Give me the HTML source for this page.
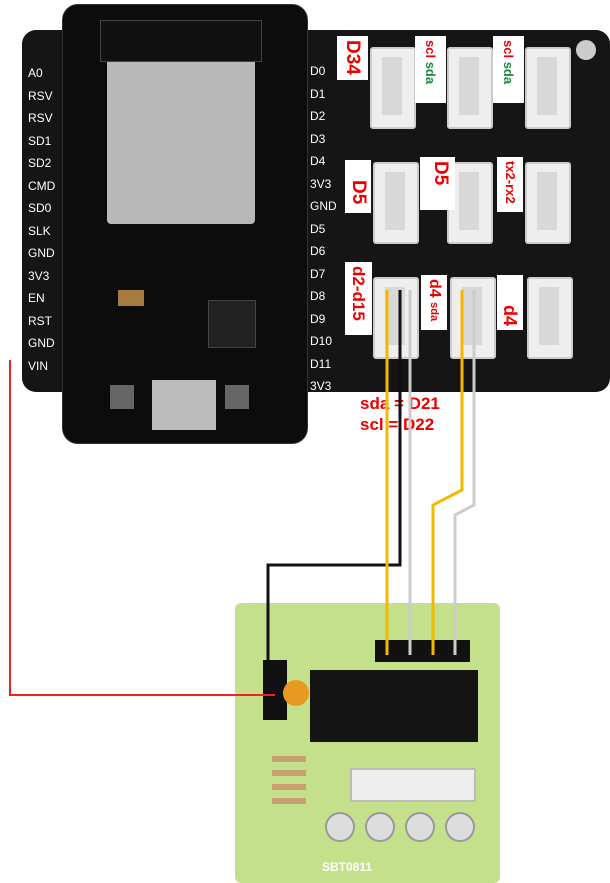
<!DOCTYPE html>
<html><head><style>
body{margin:0;width:610px;height:883px;background:#fff;position:relative;overflow:hidden;font-family:"Liberation Sans",sans-serif}
.a{position:absolute}
.conn{position:absolute;width:42px;height:78px;background:#eee;border:2px solid #ccc;border-radius:3px}
.conn:after{content:"";position:absolute;left:10px;top:8px;width:20px;height:58px;background:#d8d8d8}
.lbl{position:absolute;color:#e00;font-weight:bold;background:#fff;writing-mode:vertical-rl;box-sizing:border-box;padding-top:4px;text-align:left}
.wt{position:absolute;color:#fff;font-size:12px}
</style></head><body>
<div class="a" style="left:22px;top:30px;width:588px;height:362px;background:#151515;border-radius:14px"></div>
<div class="a" style="left:62px;top:4px;width:244px;height:438px;background:#0c0c0c;border-radius:16px;border:1px solid #333"></div>
<div class="a" style="left:107px;top:56px;width:148px;height:168px;background:#b8b8b8;border-radius:4px"></div>
<div class="a" style="left:100px;top:20px;width:160px;height:40px;background:#111;border:1px solid #444"></div>
<div class="a" style="left:152px;top:380px;width:64px;height:50px;background:#bbb"></div>
<div class="a" style="left:110px;top:385px;width:24px;height:24px;background:#666"></div>
<div class="a" style="left:225px;top:385px;width:24px;height:24px;background:#666"></div>
<div class="a" style="left:208px;top:300px;width:46px;height:46px;background:#222;border:1px solid #444"></div>
<div class="a" style="left:118px;top:290px;width:26px;height:16px;background:#a67c3c"></div>
<div class="wt" style="left:28px;top:62px;line-height:22.5px">A0<br>RSV<br>RSV<br>SD1<br>SD2<br>CMD<br>SD0<br>SLK<br>GND<br>3V3<br>EN<br>RST<br>GND<br>VIN</div>
<div class="wt" style="left:310px;top:60px;line-height:22.5px">D0<br>D1<br>D2<br>D3<br>D4<br>3V3<br>GND<br>D5<br>D6<br>D7<br>D8<br>D9<br>D10<br>D11<br>3V3</div>
<div class="a" style="left:576px;top:40px;width:20px;height:20px;border-radius:50%;background:#ccc"></div>
<div class="conn" style="left:370px;top:47px"></div>
<div class="conn" style="left:447px;top:47px"></div>
<div class="conn" style="left:525px;top:47px"></div>
<div class="conn" style="left:373px;top:162px"></div>
<div class="conn" style="left:447px;top:162px"></div>
<div class="conn" style="left:525px;top:162px"></div>
<div class="conn" style="left:373px;top:277px"></div>
<div class="conn" style="left:450px;top:277px"></div>
<div class="conn" style="left:527px;top:277px"></div>
<div class="lbl" style="left:337px;top:36px;width:31px;height:44px;font-size:19px;line-height:31px">D34</div>
<div class="lbl" style="left:415px;top:36px;width:31px;height:67px;font-size:13px;line-height:31px">scl&nbsp;<span style="color:#1a8a3a">sda</span></div>
<div class="lbl" style="left:493px;top:36px;width:31px;height:67px;font-size:13px;line-height:31px">scl&nbsp;<span style="color:#1a8a3a">sda</span></div>
<div class="lbl" style="left:345px;top:160px;width:26px;height:53px;font-size:19px;line-height:26px;padding-top:20px">D5</div>
<div class="lbl" style="left:420px;top:157px;width:35px;height:53px;font-size:19px;line-height:30px">D5</div>
<div class="lbl" style="left:497px;top:157px;width:26px;height:55px;font-size:13px;line-height:26px">tx2-rx2</div>
<div class="lbl" style="left:345px;top:262px;width:27px;height:73px;font-size:17px;line-height:27px">d2-d15</div>
<div class="lbl" style="left:421px;top:275px;width:26px;height:55px;font-size:16px;line-height:26px">d4&nbsp;<span style="font-size:11px">sda</span></div>
<div class="lbl" style="left:497px;top:275px;width:26px;height:55px;font-size:18px;line-height:26px;padding-top:30px">d4</div>
<div class="a" style="left:360px;top:393px;color:#e00;font-weight:bold;font-size:17px;line-height:21px">sda = D21<br>scl = D22</div>
<div class="a" style="left:235px;top:603px;width:265px;height:280px;background:#c4e08a;border-radius:6px"></div>
<div class="a" style="left:375px;top:640px;width:95px;height:22px;background:#111"></div>
<div class="a" style="left:310px;top:670px;width:168px;height:72px;background:#141414"></div>
<div class="a" style="left:263px;top:660px;width:24px;height:60px;background:#111"></div>
<div class="a" style="left:283px;top:680px;width:26px;height:26px;background:#e89a20;border-radius:50%"></div>
<div class="a" style="left:350px;top:768px;width:122px;height:30px;background:#eee;border:2px solid #bbb"></div>
<div class="a" style="left:325px;top:812px;width:26px;height:26px;border-radius:50%;background:#ddd;border:2px solid #999"></div>
<div class="a" style="left:365px;top:812px;width:26px;height:26px;border-radius:50%;background:#ddd;border:2px solid #999"></div>
<div class="a" style="left:405px;top:812px;width:26px;height:26px;border-radius:50%;background:#ddd;border:2px solid #999"></div>
<div class="a" style="left:445px;top:812px;width:26px;height:26px;border-radius:50%;background:#ddd;border:2px solid #999"></div>
<div class="a" style="left:272px;top:748px;width:34px;height:60px;background:repeating-linear-gradient(#c4e08a 0 8px,#c9a070 8px 14px)"></div>
<div class="a" style="left:322px;top:860px;font-size:12px;color:#fff;font-weight:bold">SBT0811</div>
<svg class="a" style="left:0;top:0" width="610" height="883">
<polyline points="10,360 10,695 275,695" fill="none" stroke="#e22" stroke-width="2"/>
<polyline points="400,290 400,565 268,565 268,690" fill="none" stroke="#111" stroke-width="3"/>
<polyline points="387,290 387,655" fill="none" stroke="#f5b800" stroke-width="3"/>
<polyline points="410,290 410,655" fill="none" stroke="#ccc" stroke-width="3"/>
<polyline points="462,290 462,490 433,505 433,655" fill="none" stroke="#f5b800" stroke-width="3"/>
<polyline points="474,290 474,505 455,515 455,655" fill="none" stroke="#ccc" stroke-width="3"/>
</svg>
</body></html>
